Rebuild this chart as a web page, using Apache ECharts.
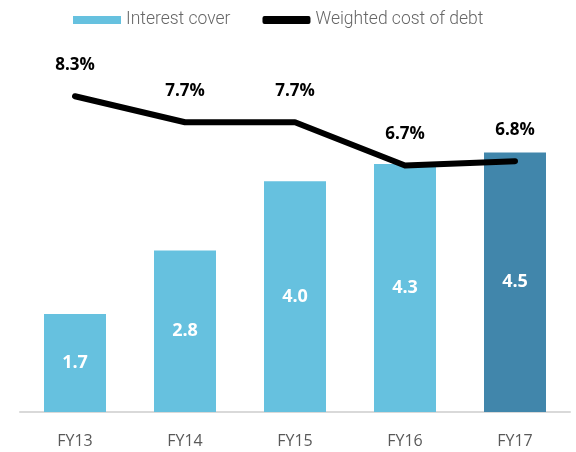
<!DOCTYPE html>
<html>
<head>
<meta charset="utf-8">
<script src="https://cdn.jsdelivr.net/npm/echarts@6/dist/echarts.min.js"></script>
<style>
  html, body { margin: 0; padding: 0; background: #fff; }
  #chart { width: 576px; height: 452px; }
</style>
</head>
<body>
<div id="chart"></div>
<script>
// categories and values
const years = ['FY13', 'FY14', 'FY15', 'FY16', 'FY17'];
const interestCover = [1.7, 2.8, 4.0, 4.3, 4.5];
const costOfDebt = [8.3, 7.7, 7.7, 6.7, 6.8];

const lightBlue = '#66c1df';
const darkBlue = '#4186ab';

const myChart = echarts.init(document.getElementById('chart'));

// last year is highlighted in a darker blue
const barData = interestCover.map((v, i) => ({
  value: v,
  itemStyle: { color: i === interestCover.length - 1 ? darkBlue : lightBlue }
}));

const option = {
  animation: false,
  legend: {
    top: 6,
    left: 68,
    itemGap: 32,
    itemWidth: 48,
    itemHeight: 8,
    textStyle: {
      color: '#666',
      fontFamily: 'Roboto',
      fontWeight: 300,
      fontSize: 17.5
    },
    data: [
      { name: 'Interest cover', icon: 'rect', itemStyle: { color: lightBlue } },
      { name: 'Weighted cost of debt', icon: 'roundRect', itemStyle: { color: '#000' } }
    ]
  },
  grid: { left: 20, right: 6, top: 66, bottom: 40 },
  xAxis: {
    type: 'category',
    data: years,
    axisTick: { show: false },
    axisLine: { lineStyle: { color: '#d9d9d9', width: 2 } },
    axisLabel: {
      color: '#595959',
      fontFamily: 'Open Sans',
      fontSize: 16,
      margin: 21
    }
  },
  yAxis: [
    { type: 'value', min: 0, max: 6, show: false, splitLine: { show: false } },
    { type: 'value', min: 1, max: 9, show: false, splitLine: { show: false } }
  ],
  series: [
    {
      name: 'Interest cover',
      type: 'bar',
      barWidth: 62,
      data: barData,
      label: {
        show: true,
        position: 'inside',
        color: '#fff',
        fontFamily: 'Open Sans',
        fontWeight: 'bold',
        fontSize: 18,
        formatter: (p) => p.value.toFixed(1)
      }
    },
    {
      name: 'Weighted cost of debt',
      type: 'line',
      yAxisIndex: 1,
      data: costOfDebt,
      symbol: 'circle',
      symbolSize: 1,
      showSymbol: true,
      lineStyle: { color: '#000', width: 6, cap: 'round', join: 'round' },
      itemStyle: { color: '#000' },
      label: {
        show: true,
        position: 'top',
        distance: 22,
        color: '#000',
        fontFamily: 'Open Sans',
        fontWeight: 'bold',
        fontSize: 17,
        formatter: (p) => p.value.toFixed(1) + '%'
      }
    }
  ]
};

myChart.setOption(option);
</script>
</body>
</html>
